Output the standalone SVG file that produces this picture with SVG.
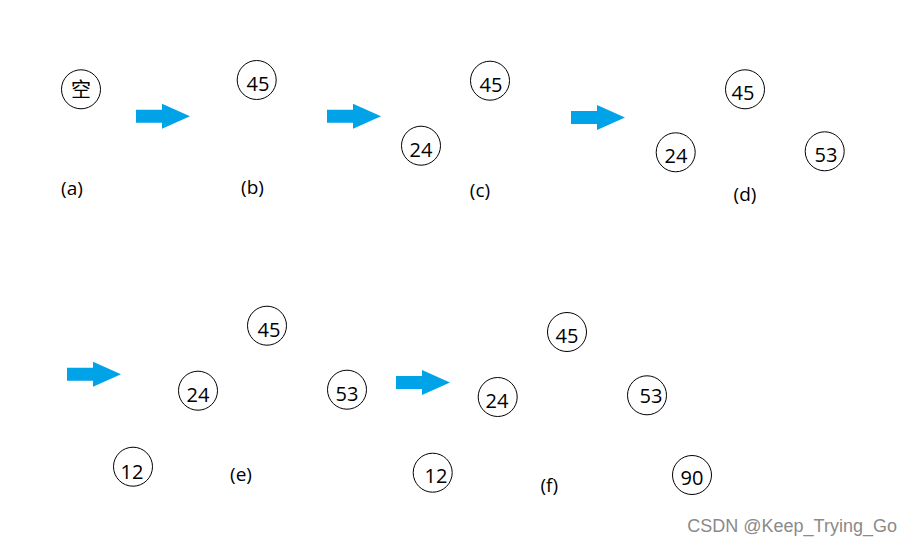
<svg xmlns="http://www.w3.org/2000/svg" xmlns:xlink="http://www.w3.org/1999/xlink" width="912" height="545" viewBox="0 0 912 545">
<style>
.n circle{fill:#fff;stroke:#000;stroke-width:1}
.n text,.lbl{font-family:"Open Sans","Noto Sans","Noto Sans CJK SC",sans-serif;font-size:20px;fill:#000;text-anchor:middle}
.lbl{font-size:19px}
.arr{fill:#00A2E8}
.wm{font-family:"Liberation Sans",Arial,sans-serif;font-size:18px;fill:#8a8a8a;text-anchor:end}
</style>
<defs>
<polygon id="arrow" points="0,-6.5 26,-6.5 26,-12.5 54,0 26,12.5 26,6.5 0,6.5"/>
</defs>
<rect width="912" height="545" fill="#fff"/>
<g id="connectors">
<use xlink:href="#arrow" class="arr" x="136" y="116.3"/>
<use xlink:href="#arrow" class="arr" x="327" y="116.3"/>
<use xlink:href="#arrow" class="arr" x="571" y="117.5"/>
<use xlink:href="#arrow" class="arr" x="67" y="374.3"/>
<use xlink:href="#arrow" class="arr" x="396" y="382.5"/>
</g>
<g id="a-empty" class="n"><circle cx="81" cy="89.3" r="19.5"/><text x="81" y="96.5" font-family="'Noto Sans CJK SC',sans-serif" font-size="19">空</text></g>
<g id="b-45" class="n"><circle cx="256.7" cy="80" r="19.5"/><text x="258" y="91">45</text></g>
<g id="c-45" class="n"><circle cx="490" cy="80.7" r="19.5"/><text x="491" y="91.5">45</text></g>
<g id="c-24" class="n"><circle cx="421" cy="145.7" r="19.5"/><text x="421" y="156.5">24</text></g>
<g id="d-45" class="n"><circle cx="745" cy="89.3" r="19.5"/><text x="743" y="100">45</text></g>
<g id="d-24" class="n"><circle cx="675.7" cy="152.3" r="19.5"/><text x="676" y="163">24</text></g>
<g id="d-53" class="n"><circle cx="824.7" cy="151.3" r="19.5"/><text x="826" y="162">53</text></g>
<g id="e-45" class="n"><circle cx="267" cy="325.7" r="19.5"/><text x="269" y="336.5">45</text></g>
<g id="e-24" class="n"><circle cx="198" cy="390.7" r="19.5"/><text x="198" y="401.5">24</text></g>
<g id="e-53" class="n"><circle cx="347" cy="389.7" r="19.5"/><text x="347" y="400.5">53</text></g>
<g id="e-12" class="n"><circle cx="133" cy="466.7" r="19.5"/><text x="132" y="479">12</text></g>
<g id="f-45" class="n"><circle cx="567" cy="332" r="19.5"/><text x="567" y="343">45</text></g>
<g id="f-24" class="n"><circle cx="497.7" cy="397" r="19.5"/><text x="497" y="408">24</text></g>
<g id="f-53" class="n"><circle cx="647" cy="395.3" r="19.5"/><text x="651" y="403">53</text></g>
<g id="f-12" class="n"><circle cx="432.7" cy="472.7" r="19.5"/><text x="436" y="483">12</text></g>
<g id="f-90" class="n"><circle cx="692" cy="475" r="19.5"/><text x="692" y="485">90</text></g>
<text class="lbl" x="72" y="195">(a)</text>
<text class="lbl" x="252.5" y="194">(b)</text>
<text class="lbl" x="480" y="197">(c)</text>
<text class="lbl" x="745" y="201">(d)</text>
<text class="lbl" x="241" y="481">(e)</text>
<text class="lbl" x="549.3" y="492">(f)</text>
<text class="wm" x="897" y="532">CSDN @Keep_Trying_Go</text>
</svg>
